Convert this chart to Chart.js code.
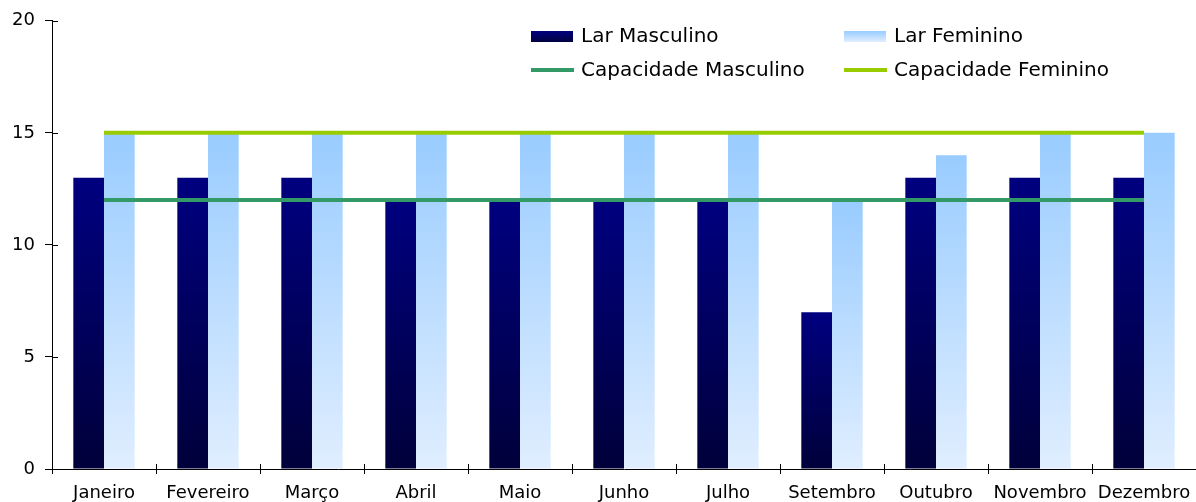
<!DOCTYPE html>
<html>
<head>
<meta charset="utf-8">
<script src="https://cdn.jsdelivr.net/npm/chart.js@4/dist/chart.umd.min.js"></script>
<style>
	html, body { margin: 0; padding: 0; background: #fff; }
	#wrap { width: 1196px; height: 502px; position: relative; }
</style>
</head>
<body>
<div id="wrap"><canvas id="chart"></canvas></div>
<script>
// occupancy per month (no August record)
const months = ['Janeiro', 'Fevereiro', 'Março', 'Abril', 'Maio', 'Junho', 'Julho', 'Setembro', 'Outubro', 'Novembro', 'Dezembro'];
const larMasculino = [13, 13, 13, 12, 12, 12, 12, 7, 13, 13, 13];
const larFeminino = [15, 15, 15, 15, 15, 15, 15, 12, 14, 15, 15];
const capMasculino = [12, 12, 12, 12, 12, 12, 12, 12, 12, 12, 12];
const capFeminino = [15, 15, 15, 15, 15, 15, 15, 15, 15, 15, 15];
const yTicks = [0, 5, 10, 15, 20];

const FONT = "'DejaVu Sans', Verdana, sans-serif";

// vertical gradient per bar, from its top down to zero
function barGradient(top, bottom) {
	return (context) => {
		const chart = context.chart;
		if (!chart.chartArea || context.type !== 'data') {
			return top;
		}
		const y = chart.scales.y;
		const g = chart.ctx.createLinearGradient(0, y.getPixelForValue(context.raw), 0, y.getPixelForValue(0));
		g.addColorStop(0, top);
		g.addColorStop(1, bottom);
		return g;
	};
}

// legend in a 2x2 grid inside the plot area
const gridLegend = {
	id: 'gridLegend',
	afterDraw(chart) {
		const ctx = chart.ctx;
		const cols = [531, 844];
		const rows = [36, 70];
		const items = [
			{ ds: 0, col: 0, row: 0, box: ['#000080', '#000040'] },
			{ ds: 1, col: 1, row: 0, box: ['#99ccff', '#e0eeff'] },
			{ ds: 2, col: 0, row: 1 },
			{ ds: 3, col: 1, row: 1 }
		];
		ctx.save();
		ctx.font = '20px ' + FONT;
		ctx.textBaseline = 'middle';
		ctx.fillStyle = '#000';
		items.forEach((it) => {
			const x = cols[it.col];
			const y = rows[it.row];
			const ds = chart.data.datasets[it.ds];
			if (it.box) {
				const g = ctx.createLinearGradient(0, y - 5, 0, y + 6);
				g.addColorStop(0, it.box[0]);
				g.addColorStop(1, it.box[1]);
				ctx.fillStyle = g;
				ctx.fillRect(x, y - 5, 42, 11);
			} else {
				ctx.fillStyle = ds.borderColor;
				ctx.fillRect(x, y - 2, 43, 4);
			}
			ctx.fillStyle = '#000';
			ctx.fillText(ds.label, x + 50, y + 1);
		});
		ctx.restore();
	}
};

// tick marks that cross the axes
const crossTicks = {
	id: 'crossTicks',
	afterDraw(chart) {
		const ctx = chart.ctx;
		const x = chart.scales.x;
		const y = chart.scales.y;
		ctx.save();
		ctx.strokeStyle = '#000';
		ctx.lineWidth = 1;
		ctx.beginPath();
		yTicks.forEach((v) => {
			const py = Math.round(y.getPixelForValue(v)) + 0.5;
			ctx.moveTo(x.left, py);
			ctx.lineTo(x.left + 6, py);
		});
		const step = (x.right - x.left) / months.length;
		for (let i = 1; i < months.length; i++) {
			const px = Math.round(x.left + i * step) + 0.5;
			ctx.moveTo(px, y.bottom);
			ctx.lineTo(px, y.bottom - 5);
		}
		ctx.stroke();
		ctx.restore();
	}
};

new Chart(document.getElementById('chart'), {
	type: 'bar',
	data: {
		labels: months,
		datasets: [
			{
				label: 'Lar Masculino',
				data: larMasculino,
				backgroundColor: barGradient('#000080', '#00003a'),
				categoryPercentage: 0.59,
				barPercentage: 1.0,
				order: 1
			},
			{
				label: 'Lar Feminino',
				data: larFeminino,
				backgroundColor: barGradient('#99ccff', '#e0eeff'),
				categoryPercentage: 0.59,
				barPercentage: 1.0,
				order: 1
			},
			{
				type: 'line',
				label: 'Capacidade Masculino',
				data: capMasculino,
				borderColor: '#339966',
				borderWidth: 4,
				pointRadius: 0,
				order: 0
			},
			{
				type: 'line',
				label: 'Capacidade Feminino',
				data: capFeminino,
				borderColor: '#99cc00',
				borderWidth: 4,
				pointRadius: 0,
				order: 0
			}
		]
	},
	options: {
		responsive: true,
		maintainAspectRatio: false,
		animation: false,
		layout: {
			padding: { top: 19, right: 0, left: 0, bottom: 0 }
		},
		scales: {
			x: {
				offset: true,
				grid: {
					offset: true,
					drawOnChartArea: false,
					drawTicks: true,
					tickLength: 5,
					color: '#000'
				},
				border: { color: '#000', width: 1 },
				ticks: {
					color: '#000',
					font: { family: FONT, size: 18 },
					padding: 9,
					maxRotation: 0,
					autoSkip: false
				},
				afterFit: (scale) => {
					scale.height = 33;
					// let the last label run to the canvas edge
					scale.paddingLeft = 0;
					scale.paddingRight = 0;
				}
			},
			y: {
				min: 0,
				max: 20,
				afterBuildTicks: (scale) => {
					scale.ticks = yTicks.map((v) => ({ value: v }));
				},
				grid: {
					drawOnChartArea: false,
					drawTicks: true,
					tickLength: 7,
					color: '#000'
				},
				border: { color: '#000', width: 1 },
				ticks: {
					color: '#000',
					font: { family: FONT, size: 18 },
					padding: 10
				},
				afterFit: (scale) => { scale.width = 52; }
			}
		},
		plugins: {
			legend: { display: false },
			tooltip: { enabled: false }
		}
	},
	plugins: [gridLegend, crossTicks]
});
</script>
</body>
</html>
